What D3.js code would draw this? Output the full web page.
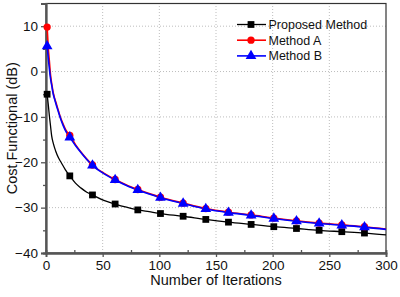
<!DOCTYPE html>
<html>
<head>
<meta charset="utf-8">
<script src="https://cdn.jsdelivr.net/npm/d3@7"></script>
<style>
  body { margin: 0; background: #fff; }
  svg { display: block; font-family: "Liberation Sans", Arial, sans-serif; }
  .grid line { stroke: #bdbdbd; stroke-dasharray: 1,2; }
</style>
</head>
<body>
<svg id="chart" width="400" height="297"></svg>
<script>
document.addEventListener("DOMContentLoaded", function() {

    // Data: [iteration, cost (dB)]
    const proposed = [[1,-5],[2,-7.3],[3,-9.8],[4,-12],[5,-14.2],[6.5,-15.9],[8.5,-17.5],[11,-19],[13.5,-20.1],[17,-21.6],
        [21,-23],[26,-24.6],[31,-25.7],[36,-26.6],[41,-27.2],[51,-28.4],[61,-29.2],[71,-29.9],[81,-30.5],[91,-30.9],
        [101,-31.3],[121,-31.9],[141,-32.6],[161,-33.2],[181,-33.7],[201,-34.2],[221,-34.6],[241,-35.0],[261,-35.3],[281,-35.6],[300,-36.0]];
    const methodA = [[1,9.8],[2,5.2],[3,2.2],[3.7,0],[4.5,-1.8],[5.3,-3.1],[6,-4.2],[7.5,-5.8],[9,-7],[11,-8.7],[12.6,-10],
        [15,-11.5],[18,-13.1],[21,-14.1],[26,-16.1],[31,-17.8],[36,-19.3],[41,-20.6],[51,-22.4],[61,-23.8],[71,-25],
        [81,-26.0],[91,-26.9],[101,-27.7],[121,-29.0],[141,-30.2],[161,-31.0],[181,-31.6],[201,-32.3],[221,-32.9],
        [241,-33.4],[261,-33.8],[281,-34.2],[300,-34.7]];
    const methodB = [[1,5.6],[2,3],[3,0.6],[3.6,-0.8],[4.5,-2.3],[5.3,-3.4],[6,-4.5],[7.5,-6],[9,-7.3],[11,-8.9],[12.6,-10.2],
        [15,-11.8],[18,-13.4],[21,-14.5],[26,-16.3],[31,-17.9],[36,-19.4],[41,-20.7],[51,-22.5],[61,-23.9],[71,-25.1],
        [81,-26.1],[91,-27.0],[101,-27.8],[121,-29.1],[141,-30.3],[161,-31.1],[181,-31.7],[201,-32.4],[221,-33.0],
        [241,-33.5],[261,-33.9],[281,-34.3],[300,-34.8]];
    const markerIters = [1,21,41,61,81,101,121,141,161,181,201,221,241,261,281];
    const seriesNames = ["Proposed Method", "Method A", "Method B"];
    const xTicks = [0, 50, 100, 150, 200, 250, 300];
    const yTicks = [-40, -30, -20, -10, 0, 10];

    // Size settings
    const svg = d3.select("#chart");
    const margin = {top: 3.5, right: 14, bottom: 44, left: 46};
    const width = 400, height = 297;
    const x = d3.scaleLinear().domain([0, 300]).range([margin.left, width - margin.right]);
    const y = d3.scaleLinear().domain([-40, 15]).range([height - margin.bottom, margin.top]);

    // Grid
    const grid = svg.append("g").attr("class", "grid");
    grid.selectAll(".vx").data(xTicks.slice(1, -1)).enter().append("line")
        .attr("x1", d => x(d)).attr("x2", d => x(d))
        .attr("y1", y(-40)).attr("y2", y(15));
    grid.selectAll(".hy").data(yTicks.slice(1)).enter().append("line")
        .attr("x1", x(0)).attr("x2", x(300))
        .attr("y1", d => y(d)).attr("y2", d => y(d));

    // Frame (top / right)
    svg.append("rect")
        .attr("x", x(0)).attr("y", y(15))
        .attr("width", x(300) - x(0)).attr("height", y(-40) - y(15))
        .attr("fill", "none").attr("stroke", "#333").attr("stroke-width", 1.2);

    // Axes
    svg.append("g")
        .attr("transform", `translate(0,${y(-40)})`)
        .call(d3.axisBottom(x).tickValues([25, 75, 125, 175, 225, 275]).tickSize(-3).tickFormat(""));
    svg.append("g")
        .attr("transform", `translate(0,${y(-40)})`)
        .call(d3.axisBottom(x).tickValues(xTicks).tickSize(4).tickPadding(3));
    svg.append("g")
        .attr("transform", `translate(${x(0)},0)`)
        .call(d3.axisLeft(y).tickValues([-35, -25, -15, -5, 5]).tickSize(3).tickFormat(""));
    svg.append("g")
        .attr("transform", `translate(${x(0)},0)`)
        .call(d3.axisLeft(y).tickValues(yTicks).tickSize(5).tickPadding(3));

    svg.selectAll(".domain").attr("stroke", "#555").attr("stroke-width", 1.8);
    svg.selectAll(".tick line").attr("stroke", "#555").attr("stroke-width", 1.3);
    svg.selectAll(".tick text").attr("font-size", "13.5px").attr("fill", "#111")
        .attr("font-family", "Liberation Sans, Arial, sans-serif");

    // Axis titles
    svg.append("text")
        .attr("x", (x(0) + x(300)) / 2).attr("y", 285)
        .attr("text-anchor", "middle").attr("font-size", "14.5px").attr("fill", "#111")
        .text("Number of Iterations");
    svg.append("text")
        .attr("transform", `translate(17,${(y(-40) + y(15)) / 2}) rotate(-90)`)
        .attr("text-anchor", "middle").attr("font-size", "14.5px").attr("fill", "#111")
        .text("Cost Functional (dB)");

    // Lines
    const line = d3.line().x(d => x(d[0])).y(d => y(d[1])).curve(d3.curveMonotoneX);
    const series = [
        {data: proposed, color: "#000", width: 1.3, shape: "square"},
        {data: methodA, color: "#ff0000", width: 1.6, shape: "circle"},
        {data: methodB, color: "#0000ff", width: 1.6, shape: "triangle"}
    ];
    const symbols = {
        square: d3.symbol().type(d3.symbolSquare).size(46),
        circle: d3.symbol().type(d3.symbolCircle).size(42),
        triangle: d3.symbol().type(d3.symbolTriangle).size(50)
    };

    series.forEach(s => {
        svg.append("path")
            .datum(s.data)
            .attr("fill", "none")
            .attr("stroke", s.color)
            .attr("stroke-width", s.width)
            .attr("d", line);
    });
    series.forEach(s => {
        svg.selectAll(null)
            .data(s.data.filter(d => markerIters.includes(d[0])))
            .enter().append("path")
            .attr("d", symbols[s.shape])
            .attr("transform", d => `translate(${x(d[0])},${y(d[1])})`)
            .attr("fill", s.color);
    });

    // Legend
    const legend = svg.append("g");
    series.forEach((s, i) => {
        const ly = 24.5 + i * 15.7;
        legend.append("line")
            .attr("x1", 237).attr("x2", 266).attr("y1", ly).attr("y2", ly)
            .attr("stroke", s.color).attr("stroke-width", s.width);
        legend.append("path")
            .attr("d", symbols[s.shape])
            .attr("transform", `translate(251,${ly})`)
            .attr("fill", s.color);
        legend.append("text")
            .attr("x", 268.5).attr("y", ly).attr("dy", "0.36em")
            .attr("font-size", "12.5px").attr("fill", "#111")
            .text(seriesNames[i]);
    });
});
</script>
</body>
</html>
